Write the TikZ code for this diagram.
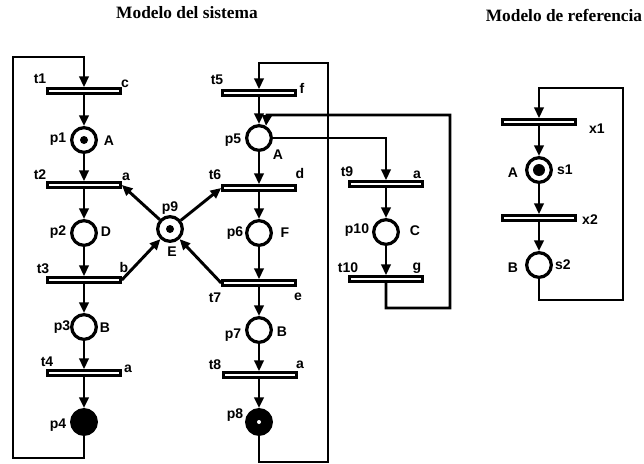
\documentclass[tikz,border=0pt]{standalone}
\usepackage{fontspec}
\setmainfont{Liberation Serif}
\setsansfont{Liberation Sans}
\usetikzlibrary{arrows.meta}

\begin{document}
\begin{tikzpicture}[
    x=0.75pt, y=-0.75pt,
    font=\sffamily\bfseries\fontsize{10.5}{12}\selectfont,
    trans/.style={rectangle, draw, fill=white, line width=2.2pt, minimum width=54.5pt, minimum height=3.6pt, inner sep=0pt},
    place/.style={circle, draw, fill=white, line width=2.4pt, minimum size=18.5pt, inner sep=0pt},
    full/.style={place, fill=black},
    lab/.style={inner sep=0pt},
    title/.style={inner sep=0pt, font=\rmfamily\bfseries\fontsize{13}{15}\selectfont},
    fl/.style={-{Triangle[length=8pt, width=7pt]}, line width=2.2pt},
    ln/.style={line width=2.2pt}
  ]
  \useasboundingbox (0,0) rectangle (644,464);

  \node[title] (tsys) at (187,13) {Modelo del sistema};
  \node[title] (tref) at (564,15) {Modelo de referencia};

  % sistema, rama izquierda
  \node[trans] (t1) at (84,91)  {};
  \node[place] (p1) at (84,140) {};
  \node[trans] (t2) at (84,185) {};
  \node[place] (p2) at (84,233) {};
  \node[trans] (t3) at (84,280) {};
  \node[place] (p3) at (84,327) {};
  \node[trans] (t4) at (84,373) {};
  \node[full]  (p4) at (84,422) {};

  % recurso compartido
  \node[place] (p9) at (170,229) {};

  % sistema, rama central
  \node[trans] (t5) at (259,93)  {};
  \node[place] (p5) at (259,138) {};
  \node[trans] (t6) at (259,188) {};
  \node[place] (p6) at (259,233) {};
  \node[trans] (t7) at (259,283) {};
  \node[place] (p7) at (259,330) {};
  \node[trans] (t8) at (260,375) {};
  \node[full]  (p8) at (259,422) {};

  % sistema, rama derecha
  \node[trans] (t9)  at (386,184) {};
  \node[place] (p10) at (386,232) {};
  \node[trans] (t10) at (386,279) {};

  % referencia
  \node[trans] (x1) at (539,122) {};
  \node[place] (s1) at (539,170) {};
  \node[trans] (x2) at (539,218) {};
  \node[place] (s2) at (539,265) {};

  % marcas
  \fill (p1) circle[radius=3pt];
  \fill (p9) circle[radius=3pt];
  \fill (s1) circle[radius=4.5pt];
  \fill[white] (p8) circle[radius=1.5pt];

  % etiquetas
  \node[lab] (lt1) at (40,79)  {t1};  \node[lab] (lc1) at (125,84)  {c};
  \node[lab] (lp1) at (58,139) {p1};  \node[lab] (lA1) at (109,141) {A};
  \node[lab] (lt2) at (40,175) {t2};  \node[lab] (la2) at (126,177) {a};
  \node[lab] (lp2) at (58,232) {p2};  \node[lab] (lD2) at (106,232) {D};
  \node[lab] (lt3) at (43,269) {t3};  \node[lab] (lb3) at (124,267) {b};
  \node[lab] (lp3) at (62,327) {p3};  \node[lab] (lB3) at (105,328) {B};
  \node[lab] (lt4) at (47,362) {t4};  \node[lab] (la4) at (128,369) {a};
  \node[lab] (lp4) at (58,425) {p4};
  \node[lab] (lp9) at (170,208) {p9}; \node[lab] (lE9) at (172,252) {E};

  \node[lab] (lt5) at (217,80)  {t5};  \node[lab] (lf5) at (302,88)  {f};
  \node[lab] (lp5) at (233,140) {p5};  \node[lab] (lA5) at (278,155) {A};
  \node[lab] (lt6) at (215,175) {t6};  \node[lab] (ld6) at (300,173) {d};
  \node[lab] (lp6) at (235,233) {p6};  \node[lab] (lF6) at (285,233) {F};
  \node[lab] (lt7) at (215,298) {t7};  \node[lab] (le7) at (298,297) {e};
  \node[lab] (lp7) at (233,335) {p7};  \node[lab] (lB7) at (282,332) {B};
  \node[lab] (lt8) at (215,365) {t8};  \node[lab] (la8) at (300,365) {a};
  \node[lab] (lp8) at (235,415) {p8};

  \node[lab] (lt9)  at (347,172) {t9};  \node[lab] (la9)  at (417,175) {a};
  \node[lab] (lp10) at (357,230) {p10}; \node[lab] (lC10) at (415,231) {C};
  \node[lab] (lt10) at (348,268) {t10}; \node[lab] (lg10) at (417,268) {g};

  \node[lab] (lx1) at (597,129) {x1};
  \node[lab] (lA)  at (513,173) {A};  \node[lab] (ls1) at (565,170) {s1};
  \node[lab] (lx2) at (590,220) {x2};
  \node[lab] (lB)  at (513,268) {B};  \node[lab] (ls2) at (563,265) {s2};

  % esquinas de los lazos
  \coordinate (lb)  at (13,458);
  \coordinate (lt)  at (13,57);
  \coordinate (mb)  at (328,462);
  \coordinate (mt)  at (328,63);
  \coordinate (rb)  at (450,308);
  \coordinate (c5)  at (267,115);
  \coordinate (xb)  at (623,300);
  \coordinate (xt)  at (623,88);

  % arcos
  \draw[fl] (t1) -- (p1);
  \draw[fl] (p1) -- (t2);
  \draw[fl] (t2) -- (p2);
  \draw[fl] (p2) -- (t3);
  \draw[fl] (t3) -- (p3);
  \draw[fl] (p3) -- (t4);
  \draw[fl] (t4) -- (p4);
  \draw[fl] (p4.south) |- (lb) -- (lt) -| (t1.north);

  \draw[fl] (p9) -- (t2.east);
  \draw[fl] (p9) -- (t6.west);
  \draw[fl] (t3.east) -- (p9);
  \draw[fl] (t7.west) -- (p9);

  \draw[fl] (t5) -- (p5);
  \draw[fl] (p5) -- (t6);
  \draw[fl] (t6) -- (p6);
  \draw[fl] (p6) -- (t7);
  \draw[fl] (t7) -- (p7);
  \draw[fl] (p7) -- (t8.north -| p7);
  \draw[fl] (t8.south -| p8) -- (p8);
  \draw[fl] (p8.south) |- (mb) -- (mt) -| (t5.north);

  \draw[fl] (p5.east) -| (t9.north);
  \draw[fl] (t9) -- (p10);
  \draw[fl] (p10) -- (t10);
  \draw[fl] (t10.south) |- (rb) |- (c5) -- (p5.60);

  \draw[fl] (x1) -- (s1);
  \draw[fl] (s1) -- (x2);
  \draw[fl] (x2) -- (s2);
  \draw[fl] (s2.south) |- (xb) -- (xt) -| (x1.north);
\end{tikzpicture}
\end{document}
